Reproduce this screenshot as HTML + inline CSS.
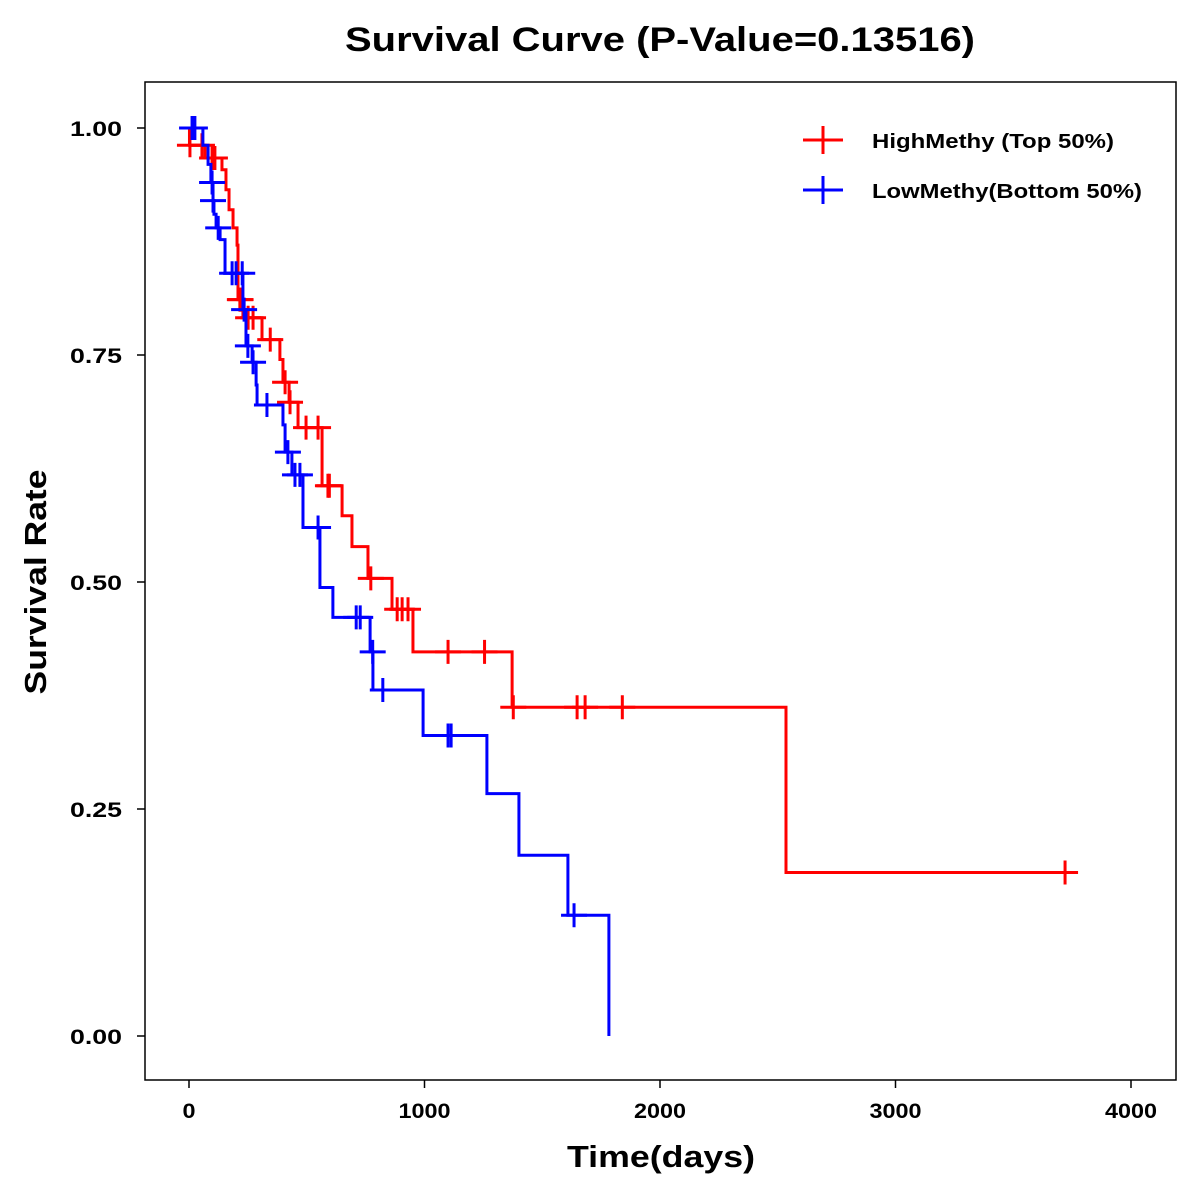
<!DOCTYPE html>
<html><head><meta charset="utf-8"><style>
html,body{margin:0;padding:0;background:#fff}
svg{display:block;font-family:"Liberation Sans",Arial,sans-serif}
</style></head><body>
<svg id="chart" width="1200" height="1200" viewBox="0 0 1200 1200">
<text x="660" y="51" text-anchor="middle" font-size="34" font-weight="bold" textLength="630" lengthAdjust="spacingAndGlyphs">Survival Curve (P-Value=0.13516)</text>
<rect x="145" y="82" width="1031" height="998" fill="none" stroke="#000" stroke-width="1.5"/>
<g id="axes"></g>
<g id="series"></g>
<text x="661" y="1167" text-anchor="middle" font-size="31" font-weight="bold" textLength="188" lengthAdjust="spacingAndGlyphs">Time(days)</text>
<text transform="translate(46,582) rotate(-90)" text-anchor="middle" font-size="31" font-weight="bold" textLength="225" lengthAdjust="spacingAndGlyphs">Survival Rate</text>
<g>
<g>
<line x1="803" y1="140" x2="843" y2="140" stroke="#ff0000" stroke-width="3"/>
<line x1="823" y1="126" x2="823" y2="154" stroke="#ff0000" stroke-width="3"/>
<text x="872" y="148" font-size="20" font-weight="bold" textLength="242" lengthAdjust="spacingAndGlyphs">HighMethy (Top 50%)</text>
</g>
<g>
<line x1="803" y1="190" x2="843" y2="190" stroke="#0000ff" stroke-width="3"/>
<line x1="823" y1="176" x2="823" y2="204" stroke="#0000ff" stroke-width="3"/>
<text x="872" y="198" font-size="20" font-weight="bold" textLength="270" lengthAdjust="spacingAndGlyphs">LowMethy(Bottom 50%)</text>
</g>
</g>
</svg>
<script>
const xTicks=[0,1000,2000,3000,4000];
const yTicks=[0,0.25,0.5,0.75,1.0];
const yTickLabels=["0.00","0.25","0.50","0.75","1.00"];
const highTimes=[2,68,140,157,170,187,204,208,229,310,386,399,425,463,565,650,692,760,862,951,1372,2535];
const highSurv=[0.981,0.967,0.954,0.932,0.910,0.890,0.871,0.811,0.791,0.767,0.745,0.720,0.698,0.670,0.606,0.573,0.539,0.504,0.470,0.423,0.362,0.180];
const highEnd=3720;
const highCensor=[4,55,98,110,216,219,251,272,345,408,429,497,548,590,596,772,884,905,930,1100,1255,1377,1648,1682,1840,3720];
const lowTimes=[59,81,93,102,106,115,132,153,229,242,268,285,289,399,408,437,484,556,611,769,781,994,1265,1401,1609,1783];
const lowSurv=[0.981,0.960,0.940,0.920,0.905,0.890,0.877,0.840,0.800,0.760,0.742,0.717,0.695,0.673,0.643,0.618,0.560,0.494,0.461,0.423,0.381,0.331,0.267,0.199,0.133,0.0];
const lowEnd=1783;
const lowCensor=[13,25,98,102,124,183,200,226,234,250,272,331,420,450,471,548,710,727,780,823,1100,1113,1635];

const X=t=>189+t*0.2355;
const Y=s=>1036-s*908;
const NS="http://www.w3.org/2000/svg";
function mk(tag,attrs,parent){const e=document.createElementNS(NS,tag);for(const k in attrs)e.setAttribute(k,attrs[k]);parent.appendChild(e);return e;}
const axes=document.getElementById('axes');
xTicks.forEach((t,i)=>{
  const l=mk('line',{x1:X(t),x2:X(t),y1:1080,y2:1088,stroke:'#000','stroke-width':1.5},axes);
  
  
  const s=String(t);
  const tx=mk('text',{x:X(t),y:1118,'text-anchor':'middle','font-size':21,'font-weight':'bold',textLength:s.length*13,lengthAdjust:'spacingAndGlyphs'},axes);
  tx.textContent=s;
  
  
});
yTicks.forEach((v,i)=>{
  const l=mk('line',{x1:137,x2:145,y1:Y(v),y2:Y(v),stroke:'#000','stroke-width':1.5},axes);
  
  
  const tx=mk('text',{x:122,y:Y(v)+8,'text-anchor':'end','font-size':21,'font-weight':'bold',textLength:52,lengthAdjust:'spacingAndGlyphs'},axes);
  tx.textContent=yTickLabels[i];
  
  
});
function levelAt(times,surv,t){let s=1;for(let i=0;i<times.length;i++){if(times[i]<=t)s=surv[i];}return s;}
const series=document.getElementById('series');
function draw(times,surv,end,cens,color,name){
  let d='M'+X(0)+','+Y(1);
  for(let i=0;i<times.length;i++){d+=' H'+X(times[i])+' V'+Y(surv[i]);}
  d+=' H'+X(end);
  const p=mk('path',{d:d,fill:'none',stroke:color,'stroke-width':3},series);
  
  
  cens.forEach(t=>{
    const lv=levelAt(times,surv,t);
    const cx=X(t),cy=Y(lv);
    const g=mk('path',{d:'M'+(cx-13)+','+cy+' H'+(cx+13)+' M'+cx+','+(cy-12)+' V'+(cy+12),stroke:color,'stroke-width':3,fill:'none'},series);
    
    
  });
}
draw(highTimes,highSurv,highEnd,highCensor,'#ff0000','high-methy');
draw(lowTimes,lowSurv,lowEnd,lowCensor,'#0000ff','low-methy');
</script>
</body></html>
